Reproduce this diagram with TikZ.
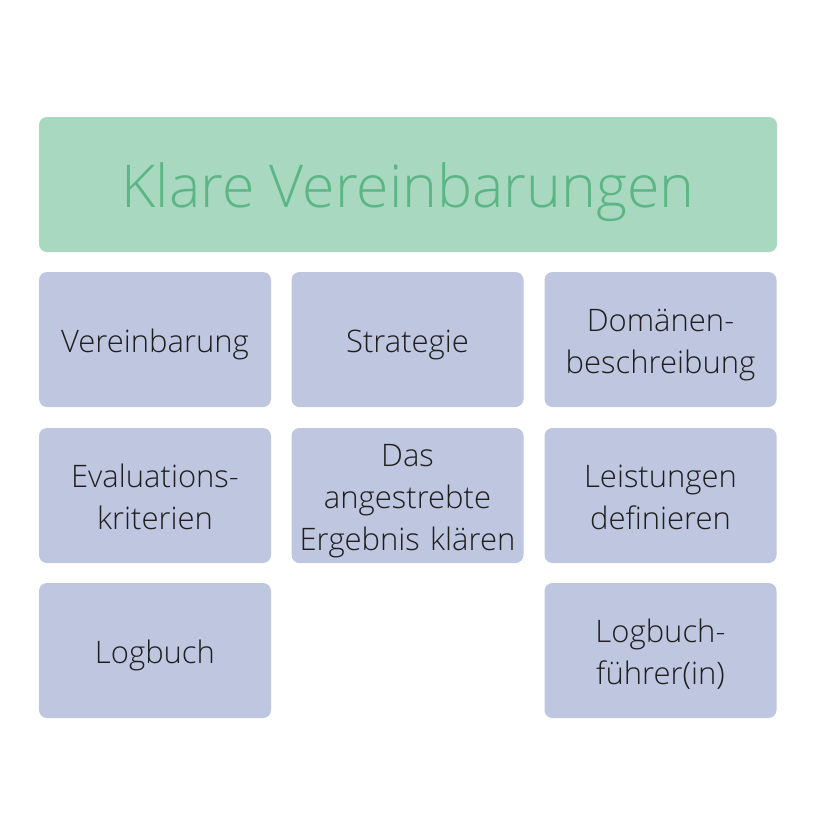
\documentclass[tikz,border=0pt]{standalone}
\usepackage{fontspec}
\setmainfont{Open Sans}[UprightFont = * Light]
\usetikzlibrary{positioning}

\definecolor{titlefill}{HTML}{A8D8C0}
\definecolor{titletext}{HTML}{5BB585}
\definecolor{itemfill}{HTML}{BFC6E0}
\definecolor{itemtext}{HTML}{1E1E1E}

% Zeilenstrebe
\newcommand{\zstrut}{\rule[-8pt]{0pt}{42pt}}

\begin{document}
\begin{tikzpicture}[x = 1pt, y = -1pt,
  titlebox/.style = {fill = titlefill, text = titletext, rounded corners = 8pt,
    minimum width = 738pt, minimum height = 135pt, inner sep = 0pt,
    text height = 45pt, text depth = 0pt,
    font = \fontsize{59}{70}\selectfont},
  itembox/.style = {fill = itemfill, text = itemtext, rounded corners = 8pt,
    minimum width = 232pt, minimum height = 135pt, inner sep = 0pt,
    text width = 228pt, align = center,
    execute at begin node = \zstrut, execute at end node = \zstrut,
    font = \fontsize{31}{42}\selectfont}]
  \useasboundingbox (0, 0) rectangle (816, 836);	% Rand

  % Titel
  \node[titlebox] (klare) at (408, 184.5) {Klare Vereinbarungen};

  % erste Reihe
  \node[itembox] (vereinbarung) at (155, 339.5) {Vereinbarung};
  \node[itembox] (strategie) at (407.5, 339.5) {Strategie};
  \node[itembox] (domaene) at (660.5, 339.5) {Domänen-\\beschreibung};

  % zweite Reihe
  \node[itembox] (evaluation) at (155, 495.5) {Evaluations-\\kriterien};
  \node[itembox] (ergebnis) at (407.5, 495.5) {Das\\angestrebte\\Ergebnis klären};
  \node[itembox] (leistungen) at (660.5, 495.5) {Leistungen\\definieren};

  % dritte Reihe
  \node[itembox] (logbuch) at (155, 650.5) {Logbuch};
  \node[itembox] (fuehrer) at (660.5, 650.5) {Logbuch-\\führer(in)};

\end{tikzpicture}
\end{document}
